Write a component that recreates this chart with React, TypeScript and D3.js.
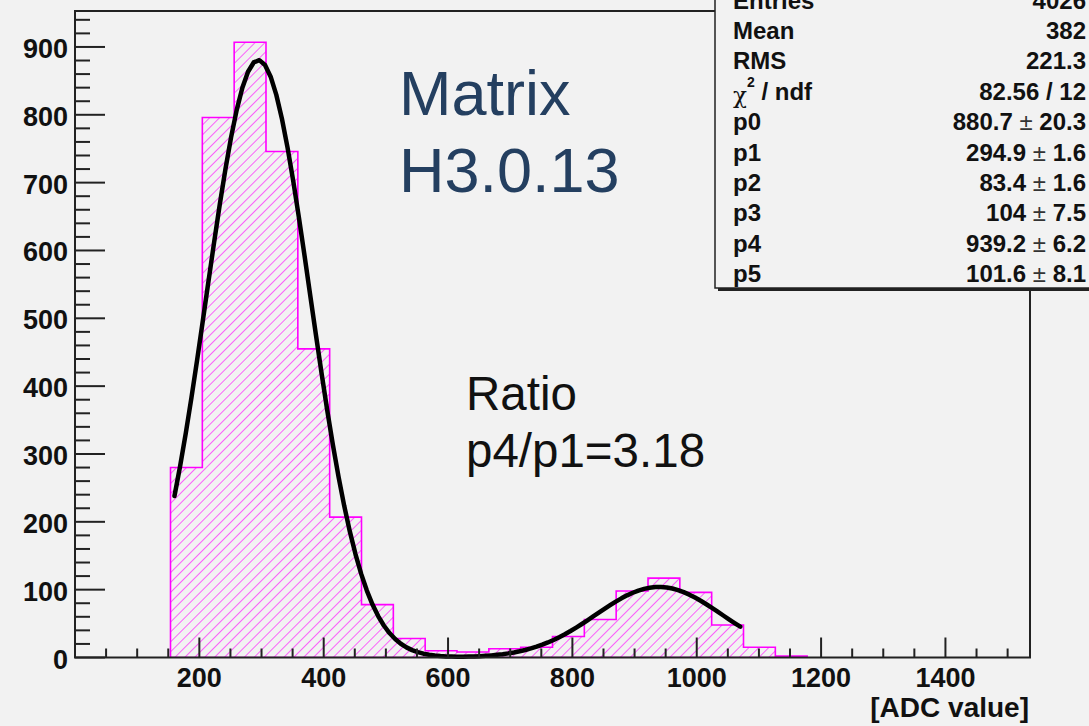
import React from "react";
import * as d3 from "d3";

// Histogram definition: 30 bins spanning 0..1536 ADC counts
const X_MIN = 0;
const X_MAX = 1536;
const N_BINS = 30;
const Y_MAX = 953;

// Entries per bin
const binCounts = [
  0, 0, 0, 280, 796, 907, 746, 455, 207, 78,
  28, 10, 8, 13, 15, 31, 56, 98, 117, 96,
  48, 15, 2, 0, 0, 0, 0, 0, 0, 0,
];

// Double-Gaussian fit parameters
const fitParams = [880.7, 294.9, 83.4, 104, 939.2, 101.6];
const fitRange = [160, 1070];

const yTicks = [0, 100, 200, 300, 400, 500, 600, 700, 800, 900];
const xTicks = [200, 400, 600, 800, 1000, 1200, 1400];

const statLabels = ["Entries", "Mean", "RMS", "chi2", "p0", "p1", "p2", "p3", "p4", "p5"];
const statValues = ["4026", "382", "221.3", "82.56 / 12", "880.7", "294.9", "83.4", "104", "939.2", "101.6"];
const statErrors = ["", "", "", "", "20.3", "1.6", "1.6", "7.5", "6.2", "8.1"];

const titleLines = ["Matrix", "H3.0.13"];
const ratioLines = ["Ratio", "p4/p1=3.18"];

const FONT = "'Liberation Sans', Arial, Helvetica, sans-serif";

function fitFn(x: number): number {
  const [a0, m0, s0, a1, m1, s1] = fitParams;
  return (
    a0 * Math.exp(-0.5 * ((x - m0) / s0) ** 2) +
    a1 * Math.exp(-0.5 * ((x - m1) / s1) ** 2)
  );
}

export default function App() {
  const W = 1089;
  const H = 726;
  const left = 75;
  const right = 1030;
  const top = 11;
  const bottom = 657.5;

  const x = d3.scaleLinear().domain([X_MIN, X_MAX]).range([left, right]);
  const y = d3.scaleLinear().domain([0, Y_MAX]).range([bottom, top]);
  const binW = (X_MAX - X_MIN) / N_BINS;

  // Step outline of the non-empty bin range
  const first = binCounts.findIndex((c) => c > 0);
  let last = binCounts.length - 1;
  while (last > 0 && binCounts[last] === 0) last--;
  const pts: [number, number][] = [[x(X_MIN + first * binW), y(0)]];
  for (let i = first; i <= last; i++) {
    const x0 = x(X_MIN + i * binW);
    const x1 = x(X_MIN + (i + 1) * binW);
    pts.push([x0, y(binCounts[i])]);
    pts.push([x1, y(binCounts[i])]);
  }
  pts.push([x(X_MIN + (last + 1) * binW), y(0)]);
  const histPath = d3.line()(pts) + "Z";

  // Fit curve sampled across its range
  const nPts = 100;
  const fitPts: [number, number][] = d3
    .range(nPts + 1)
    .map((k) => fitRange[0] + ((fitRange[1] - fitRange[0]) * k) / nPts)
    .map((v) => [x(v), y(fitFn(v))]);
  const fitPath = d3.line()(fitPts) || "";

  const yMinor = d3.range(0, Y_MAX, 20).filter((v) => v % 100 !== 0);
  const xMinor = d3.range(50, X_MAX, 50).filter((v) => v % 200 !== 0);

  const statX0 = 733;
  const statX1 = 1086;
  const statBase = 8.5;
  const statStep = 30.4;

  return (
    <div
      style={{
        position: "fixed",
        left: 0,
        top: 0,
        width: W,
        height: H,
        background: "#f2f2f2",
      }}
    >
      <svg width={W} height={H} style={{ display: "block" }} fontFamily={FONT}>
        <defs>
          <pattern
            id="hatch"
            patternUnits="userSpaceOnUse"
            width={7}
            height={7}
            patternTransform="rotate(45)"
          >
            <line x1={0} y1={0} x2={0} y2={7} stroke="#ff00ff" strokeWidth={1.2} />
          </pattern>
          <clipPath id="frameClip">
            <rect x={left} y={top} width={right - left} height={bottom - top} />
          </clipPath>
        </defs>

        <rect x={0} y={0} width={W} height={H} fill="#f2f2f2" />

        {/* histogram */}
        <g clipPath="url(#frameClip)">
          <path d={histPath} fill="url(#hatch)" stroke="#ff00ff" strokeWidth={1.6} />
        </g>

        {/* fit curve */}
        <path
          d={fitPath}
          fill="none"
          stroke="#000"
          strokeWidth={4.5}
          strokeLinejoin="round"
          strokeLinecap="round"
        />

        {/* frame */}
        <rect
          x={left}
          y={top}
          width={right - left}
          height={bottom - top}
          fill="none"
          stroke="#222"
          strokeWidth={2}
        />

        {/* y axis ticks */}
        {yTicks.map((v) => (
          <line key={"ym" + v} x1={left} x2={left + 30} y1={y(v)} y2={y(v)} stroke="#222" strokeWidth={2} />
        ))}
        {yMinor.map((v) => (
          <line key={"yn" + v} x1={left} x2={left + 15} y1={y(v)} y2={y(v)} stroke="#222" strokeWidth={2} />
        ))}
        {yTicks.map((v) => (
          <text
            key={"yl" + v}
            x={68}
            y={y(v) + 11}
            textAnchor="end"
            fontSize={27}
            fontWeight="bold"
            fill="#111"
          >
            {v}
          </text>
        ))}

        {/* x axis ticks */}
        {xTicks.map((v) => (
          <line key={"xm" + v} x1={x(v)} x2={x(v)} y1={bottom} y2={bottom - 20} stroke="#222" strokeWidth={2} />
        ))}
        {xMinor.map((v) => (
          <line key={"xn" + v} x1={x(v)} x2={x(v)} y1={bottom} y2={bottom - 9} stroke="#222" strokeWidth={2} />
        ))}
        {xTicks.map((v) => (
          <text
            key={"xl" + v}
            x={x(v)}
            y={687}
            textAnchor="middle"
            fontSize={27}
            fontWeight="bold"
            fill="#111"
          >
            {v}
          </text>
        ))}
        <text x={1029} y={717} textAnchor="end" fontSize={28} fontWeight="bold" fill="#111">
          [ADC value]
        </text>

        {/* annotations */}
        {titleLines.map((t, i) => (
          <text key={t} x={399} y={115 + i * 77} fontSize={63} fill="#243f60">
            {t}
          </text>
        ))}
        {ratioLines.map((t, i) => (
          <text key={t} x={466} y={410 + i * 57} fontSize={47.5} fill="#111">
            {t}
          </text>
        ))}

        {/* statistics box */}
        <rect x={718} y={-20} width={400} height={311} fill="#222" />
        <rect x={715} y={-20} width={400} height={308} fill="#f2f2f2" stroke="#222" strokeWidth={1.5} />
        {statLabels.map((lab, i) => {
          const by = statBase + i * statStep;
          return (
            <g key={lab}>
              {lab === "chi2" ? (
                <text x={statX0} y={by} fontSize={24} fontWeight="bold" fill="#111">
                  <tspan fontWeight="normal" fontFamily="'DejaVu Serif', serif" fontSize={23} dy={3}>χ</tspan>
                  <tspan fontSize={14} dy={-16}>2</tspan>
                  <tspan dy={13}>{" / ndf"}</tspan>
                </text>
              ) : (
                <text x={statX0} y={by} fontSize={24} fontWeight="bold" fill="#111">
                  {lab}
                </text>
              )}
              <text x={statX1} y={by} textAnchor="end" fontSize={24} fontWeight="bold" fill="#111">
                {statValues[i]}
                {statErrors[i] !== "" && (
                  <>
                    <tspan fontWeight="normal" fill="#333">{" ± "}</tspan>
                    <tspan>{statErrors[i]}</tspan>
                  </>
                )}
              </text>
            </g>
          );
        })}
      </svg>
    </div>
  );
}
